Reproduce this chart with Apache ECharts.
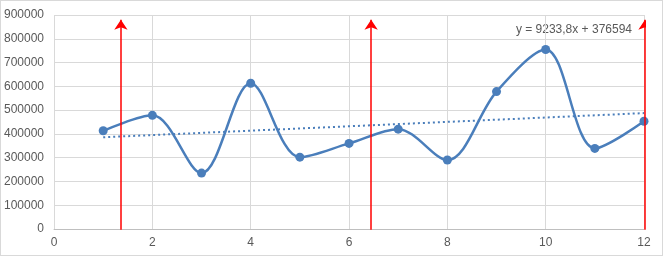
<!DOCTYPE html>
<html>
<head>
<meta charset="utf-8">
<script src="https://cdn.jsdelivr.net/npm/echarts@6/dist/echarts.min.js"></script>
<style>
  html, body { margin: 0; padding: 0; background: #fff; }
  #chart { width: 661px; height: 254px; border: 1px solid #d9d9d9; }
</style>
</head>
<body>
<div id="chart"></div>
<script>
// data
let xValues = [1, 2, 3, 4, 5, 6, 7, 8, 9, 10, 11, 12]
let yValues = [413000, 478000, 235000, 613000, 302000, 360000, 420000, 290000, 578000, 755000, 339000, 453000]
// linear trend shown on chart: y = 9233,8x + 376594
let trendSlope = 9233.8
let trendIntercept = 376594
let trendLabel = 'y = 9233,8x + 376594'
// red arrows (x position, top value)
let arrowX = [1.36, 6.45, 12.02]
let arrowTop = 880000

let points = xValues.map((x, i) => [x, yValues[i]])
let trendPoints = [xValues[0], xValues[xValues.length - 1]].map(x => [x, trendSlope * x + trendIntercept])
let arrowLines = arrowX.map(x => ({ coords: [[x, -12000], [x, arrowTop]] }))

let font = '"Liberation Sans", Arial, sans-serif'

let chart = echarts.init(document.getElementById('chart'))
chart.setOption({
  animation: false,
  grid: { left: 53, right: 18, top: 14, bottom: 26 },
  xAxis: {
    type: 'value',
    min: 0,
    max: 12,
    interval: 2,
    axisLine: { show: true, onZero: false, lineStyle: { color: '#bfbfbf' } },
    axisTick: { show: false },
    axisLabel: { color: '#595959', fontSize: 12, fontFamily: font, margin: 8 },
    splitLine: { show: true, lineStyle: { color: '#d9d9d9' } },
  },
  yAxis: {
    type: 'value',
    min: 0,
    max: 900000,
    interval: 100000,
    axisLine: { show: false },
    axisTick: { show: false },
    axisLabel: { color: '#595959', fontSize: 12, fontFamily: font, margin: 10, formatter: v => String(v) },
    splitLine: { show: true, lineStyle: { color: '#d9d9d9' } },
  },
  series: [
    {
      name: 'trend',
      type: 'line',
      data: trendPoints,
      symbol: 'none',
      lineStyle: { color: '#4a7ebb', width: 2, type: [2, 3] },
      z: 2,
    },
    {
      name: 'data',
      type: 'line',
      data: points,
      smooth: 0.33,
      symbol: 'circle',
      symbolSize: 9,
      itemStyle: { color: '#4a7ebb' },
      lineStyle: { color: '#4a7ebb', width: 2.5 },
      z: 3,
    },
    {
      name: 'arrows',
      type: 'lines',
      coordinateSystem: 'cartesian2d',
      silent: true,
      symbol: ['none', 'arrow'],
      symbolSize: 10,
      lineStyle: { color: '#ff0000', width: 1.5, opacity: 1 },
      data: arrowLines,
      z: 4,
    },
  ],
  graphic: [
    {
      type: 'text',
      right: 30,
      top: 23,
      style: { text: trendLabel, fill: '#595959', fontSize: 12, fontFamily: font },
    },
  ],
})
</script>
</body>
</html>
